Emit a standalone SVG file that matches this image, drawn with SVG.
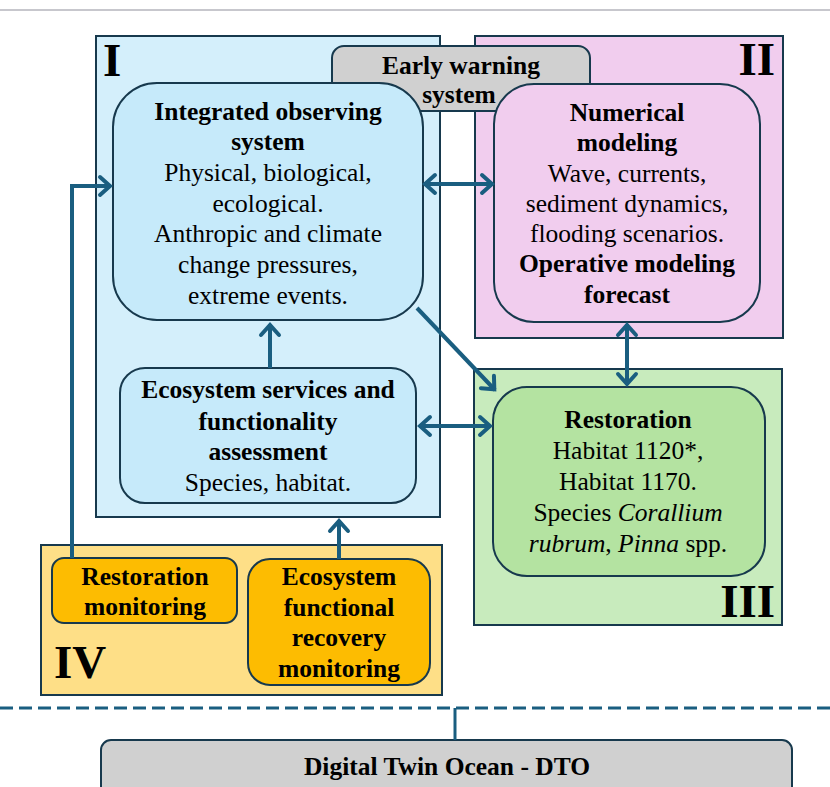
<svg xmlns="http://www.w3.org/2000/svg" width="830" height="787" viewBox="0 0 830 787">
<style>
.box{stroke:#17394d;stroke-width:2}
.t{font-family:"Liberation Serif","Times New Roman",serif;font-size:25.5px;fill:#000;text-anchor:middle}
.b{font-weight:bold}
.num{font-family:"Liberation Serif","Times New Roman",serif;font-size:47px;font-weight:bold;fill:#000}
.con{fill:none;stroke:#1a5e80;stroke-width:4}
</style>
<defs>
<marker id="arr" viewBox="-16 -13 20 26" refX="0" refY="0" markerWidth="20" markerHeight="26" markerUnits="userSpaceOnUse" orient="auto-start-reverse">
<path d="M-11,-9 L-1,0 L-11,9" fill="none" stroke="#1a5e80" stroke-width="4" stroke-linecap="round" stroke-linejoin="miter"/>
</marker>
</defs>
<rect width="830" height="787" fill="#fff"/>
<line x1="0" y1="10" x2="830" y2="10" stroke="#b4b4bc" stroke-width="1.5"/>

<g id="groupI">
<rect class="box" x="96" y="36" width="344" height="481" fill="#d4effb"/>
<text class="num" x="103" y="76">I</text>
</g>
<g id="groupII">
<rect class="box" x="475" y="36" width="308" height="302" fill="#f1cdee"/>
<text class="num" x="775" y="75" text-anchor="end">II</text>
</g>
<g id="groupIII">
<rect class="box" x="474" y="369" width="308" height="256" fill="#c8ebbd"/>
<text class="num" x="775" y="617" text-anchor="end">III</text>
</g>
<g id="groupIV">
<rect class="box" x="41" y="545" width="401" height="150" fill="#fedf87"/>
<text class="num" x="54" y="678">IV</text>
</g>

<g id="early-warning">
<rect class="box" x="332" y="46" width="258" height="65" rx="12" fill="#d0d0d0"/>
<text class="t b" x="461" y="74">Early warning</text>
<text class="t b" x="459" y="103">system</text>
</g>

<g id="integrated-observing">
<rect class="box" x="113" y="83" width="310" height="237" rx="44" fill="#c6eafa"/>
<text class="t b" x="268" y="120">Integrated observing</text>
<text class="t b" x="268" y="150">system</text>
<text class="t" x="268" y="181">Physical, biological,</text>
<text class="t" x="268" y="212">ecological.</text>
<text class="t" x="268" y="242">Anthropic and climate</text>
<text class="t" x="268" y="273">change pressures,</text>
<text class="t" x="268" y="304">extreme events.</text>
</g>

<g id="numerical-modeling">
<rect class="box" x="494" y="84" width="266" height="238" rx="40" fill="#f1cdee"/>
<text class="t b" x="627" y="121">Numerical</text>
<text class="t b" x="627" y="151">modeling</text>
<text class="t" x="627" y="182">Wave, currents,</text>
<text class="t" x="627" y="212">sediment dynamics,</text>
<text class="t" x="627" y="242">flooding scenarios.</text>
<text class="t b" x="627" y="272">Operative modeling</text>
<text class="t b" x="627" y="303">forecast</text>
</g>

<g id="ecosystem-services">
<rect class="box" x="120" y="368" width="296" height="135" rx="25" fill="#c6eafa"/>
<text class="t b" x="268" y="398">Ecosystem services and</text>
<text class="t b" x="268" y="430">functionality</text>
<text class="t b" x="268" y="460">assessment</text>
<text class="t" x="268" y="491">Species, habitat.</text>
</g>

<g id="restoration">
<rect class="box" x="493" y="387" width="272" height="189" rx="34" fill="#b4e3a1"/>
<text class="t b" x="628" y="428">Restoration</text>
<text class="t" x="628" y="459">Habitat 1120*,</text>
<text class="t" x="628" y="490">Habitat 1170.</text>
<text class="t" x="628" y="521">Species <tspan font-style="italic">Corallium</tspan></text>
<text class="t" x="628" y="552"><tspan font-style="italic">rubrum</tspan>, <tspan font-style="italic">Pinna</tspan> spp.</text>
</g>

<g id="restoration-monitoring">
<rect class="box" x="52" y="558" width="185" height="65" rx="12" fill="#fdbc01"/>
<text class="t b" x="145" y="585">Restoration</text>
<text class="t b" x="145" y="615">monitoring</text>
</g>

<g id="ecosystem-functional">
<rect class="box" x="248" y="559" width="182" height="126" rx="22" fill="#fdbc01"/>
<text class="t b" x="339" y="585">Ecosystem</text>
<text class="t b" x="339" y="616">functional</text>
<text class="t b" x="339" y="646">recovery</text>
<text class="t b" x="339" y="677">monitoring</text>
</g>

<g id="dto">
<rect class="box" x="101" y="740" width="691" height="60" rx="10" fill="#d0d0d0"/>
<text class="t b" x="447" y="775">Digital Twin Ocean - DTO</text>
</g>

<g id="connectors">
<polyline class="con" points="72,558 72,186 111,186" marker-end="url(#arr)"/>
<line class="con" x1="424" y1="184" x2="493" y2="184" marker-start="url(#arr)" marker-end="url(#arr)"/>
<line class="con" x1="270" y1="368" x2="270" y2="324" marker-end="url(#arr)"/>
<line class="con" x1="417" y1="308" x2="495" y2="390" marker-end="url(#arr)"/>
<line class="con" x1="419" y1="426" x2="491" y2="426" marker-start="url(#arr)" marker-end="url(#arr)"/>
<line class="con" x1="627" y1="324" x2="627" y2="385" marker-start="url(#arr)" marker-end="url(#arr)"/>
<line class="con" x1="339" y1="559" x2="339" y2="520" marker-end="url(#arr)"/>
<line x1="0" y1="708" x2="830" y2="708" stroke="#1a5e80" stroke-width="3" stroke-dasharray="13 6"/>
<line x1="455" y1="708" x2="455" y2="740" stroke="#1a5e80" stroke-width="3"/>
</g>
</svg>
